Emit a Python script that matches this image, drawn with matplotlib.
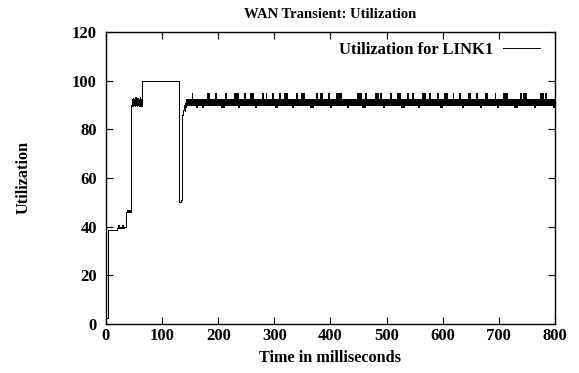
import numpy as np
import matplotlib.pyplot as plt

plt.rcParams['font.family'] = ['Liberation Serif', 'DejaVu Serif']
plt.rcParams['font.weight'] = 'bold'

# start-up transient (time in ms, utilization), step values
t_start = [0, 4, 19, 21, 23, 25, 27, 29, 31, 33,
           35, 37, 39, 41, 43,
           45, 46, 47, 48, 49, 50, 51, 52, 53, 54, 55, 56, 57, 58, 59, 60, 61, 62, 63, 64,
           65, 131, 133, 135, 137, 139, 140, 141, 142, 143, 144]
u_start = [2.5, 38.5, 39.5, 40.5, 39.5, 40, 39.5, 40.5, 39.5, 40,
           46, 47, 46, 47, 46,
           90, 92.5, 89.5, 93, 90, 92.5, 89.5, 93.5, 90, 92.5, 89.5, 93, 90, 92.5, 89.5, 93.5, 90, 92.5, 89.5, 93,
           100, 50, 51, 86, 88, 90, 87.5, 91, 89, 92.5, 90]

# steady state, sampled every 1.5 ms from 145 ms
t0_steady = 145
dt_steady = 1.5
u_steady = [
    90.2, 92.6, 90.2, 92.6, 90.2, 95, 90.2, 92.6, 90.2, 92.6, 89, 92.6, 90.2, 92.6, 90.2, 92.6,
    90.2, 92.6, 89, 92.6, 90.2, 92.6, 90.2, 95, 90.2, 95, 90.2, 92.6, 90.2, 92.6, 90.2, 92.6,
    90.2, 95, 90.2, 92.6, 90.2, 92.6, 90.2, 92.6, 89, 92.6, 89, 92.6, 90.2, 95, 90.2, 92.6,
    90.2, 92.6, 90.2, 92.6, 90.2, 92.6, 90.2, 95, 90.2, 95, 90.2, 95, 89, 92.6, 90.2, 92.6,
    90.2, 92.6, 90.2, 95, 90.2, 92.6, 90.2, 92.6, 90.2, 92.6, 90.2, 95, 90.2, 95, 90.2, 92.6,
    89, 92.6, 90.2, 92.6, 90.2, 92.6, 90.2, 92.6, 90.2, 95, 90.2, 92.6, 90.2, 95, 90.2, 92.6,
    90.2, 92.6, 90.2, 92.6, 90.2, 95, 90.2, 92.6, 89, 92.6, 89, 92.6, 90.2, 95, 90.2, 92.6,
    90.2, 92.6, 90.2, 95, 90.2, 95, 90.2, 92.6, 90.2, 92.6, 90.2, 92.6, 89, 92.6, 90.2, 92.6,
    90.2, 95, 90.2, 92.6, 90.2, 92.6, 90.2, 95, 90.2, 95, 90.2, 92.6, 90.2, 92.6, 90.2, 92.6,
    90.2, 92.6, 89, 92.6, 89, 92.6, 90.2, 92.6, 90.2, 95, 90.2, 92.6, 90.2, 95, 90.2, 95,
    90.2, 92.6, 90.2, 92.6, 90.2, 92.6, 90.2, 95, 90.2, 92.6, 89, 92.6, 90.2, 92.6, 90.2, 92.6,
    90.2, 95, 90.2, 95, 90.2, 95, 90.2, 92.6, 90.2, 92.6, 90.2, 92.6, 90.2, 92.6, 89, 92.6,
    90.2, 92.6, 90.2, 92.6, 90.2, 92.6, 90.2, 92.6, 90.2, 95, 90.2, 95, 90.2, 95, 90.2, 92.6,
    89, 92.6, 89, 95, 90.2, 92.6, 90.2, 92.6, 90.2, 92.6, 90.2, 92.6, 90.2, 92.6, 90.2, 95,
    90.2, 95, 90.2, 92.6, 90.2, 95, 90.2, 92.6, 89, 92.6, 90.2, 92.6, 90.2, 92.6, 90.2, 92.6,
    90.2, 95, 90.2, 92.6, 90.2, 92.6, 90.2, 92.6, 90.2, 95, 90.2, 95, 90.2, 92.6, 89, 92.6,
    89, 92.6, 90.2, 92.6, 90.2, 95, 90.2, 92.6, 90.2, 92.6, 90.2, 95, 90.2, 92.6, 90.2, 92.6,
    90.2, 92.6, 89, 92.6, 90.2, 92.6, 90.2, 95, 90.2, 95, 90.2, 92.6, 90.2, 92.6, 90.2, 95,
    90.2, 92.6, 90.2, 92.6, 90.2, 92.6, 90.2, 92.6, 90.2, 95, 90.2, 92.6, 89, 92.6, 89, 92.6,
    90.2, 95, 90.2, 95, 90.2, 92.6, 90.2, 92.6, 90.2, 92.6, 90.2, 95, 90.2, 92.6, 90.2, 92.6,
    90.2, 92.6, 90.2, 95, 90.2, 92.6, 89, 92.6, 90.2, 92.6, 90.2, 92.6, 90.2, 95, 90.2, 95,
    90.2, 92.6, 90.2, 92.6, 90.2, 92.6, 90.2, 95, 90.2, 92.6, 90.2, 92.6, 89, 92.6, 90.2, 92.6,
    90.2, 95, 90.2, 95, 90.2, 92.6, 90.2, 92.6, 90.2, 92.6, 90.2, 92.6, 90.2, 95, 90.2, 92.6,
    89, 92.6, 90.2, 92.6, 90.2, 92.6, 90.2, 95, 90.2, 95, 90.2, 95, 90.2, 92.6, 90.2, 92.6,
    90.2, 92.6, 90.2, 92.6, 89, 92.6, 89, 92.6, 90.2, 92.6, 90.2, 95, 90.2, 92.6, 90.2, 95,
    90.2, 95, 90.2, 92.6, 90.2, 92.6, 90.2, 92.6, 90.2, 92.6, 90.2, 92.6, 89, 92.6, 90.2, 92.6,
    90.2, 92.6, 90.2, 95, 90.2, 95, 90.2, 92.6, 90.2, 95, 90.2, 92.6, 90.2, 92.6, 90.2, 92.6,
    90.2, 92.6, 89, 92.6, 90.2, 92.6, 90.2, 92.6, 90.2, 95, 90.2, 92.6, 90.2, 92.6, 90.2, 95,
    90.2, 92.6, 90.2, 92.6, 90.2, 95,
]

x_ticks = [0, 100, 200, 300, 400, 500, 600, 700, 800]
y_ticks = [0, 20, 40, 60, 80, 100, 120]

t_steady = t0_steady + dt_steady * np.arange(len(u_steady))
t_all = np.concatenate([t_start, t_steady])
u_all = np.concatenate([u_start, u_steady])

fig = plt.figure(figsize=(5.79, 3.73), dpi=100)
ax = fig.add_axes([0.183, 0.1314, 0.7755, 0.7826])

ax.step(t_all, u_all, where='post', color='black', lw=0.7, antialiased=False,
        label='Utilization for LINK1')

ax.set_xlim(0, 800)
ax.set_ylim(0, 120)
ax.set_xticks(x_ticks)
ax.set_yticks(y_ticks)
ax.tick_params(direction='in', length=5, width=0.8, top=True, right=True,
               labelsize=12)
ax.tick_params(axis='x', pad=3)
ax.tick_params(axis='y', pad=6.5)
for lab in ax.get_xticklabels() + ax.get_yticklabels():
    lab.set_fontweight('bold')
for s in ax.spines.values():
    s.set_linewidth(1.0)

ax.set_title('WAN Transient: Utilization', fontsize=10.5, fontweight='bold', pad=10)
ax.set_xlabel('Time in milliseconds', fontsize=11.7, fontweight='bold', labelpad=4)
fig.text(0.04, 0.525, 'Utilization', rotation=90, ha='center', va='center',
         fontsize=11.7, fontweight='bold')

ax.legend(loc='upper right', bbox_to_anchor=(0.967, 0.965), frameon=False,
          markerfirst=False, handlelength=2.2, handletextpad=0.6,
          borderaxespad=0, borderpad=0,
          prop={'weight': 'bold', 'size': 12})

fig.savefig('out.png', dpi=100)
